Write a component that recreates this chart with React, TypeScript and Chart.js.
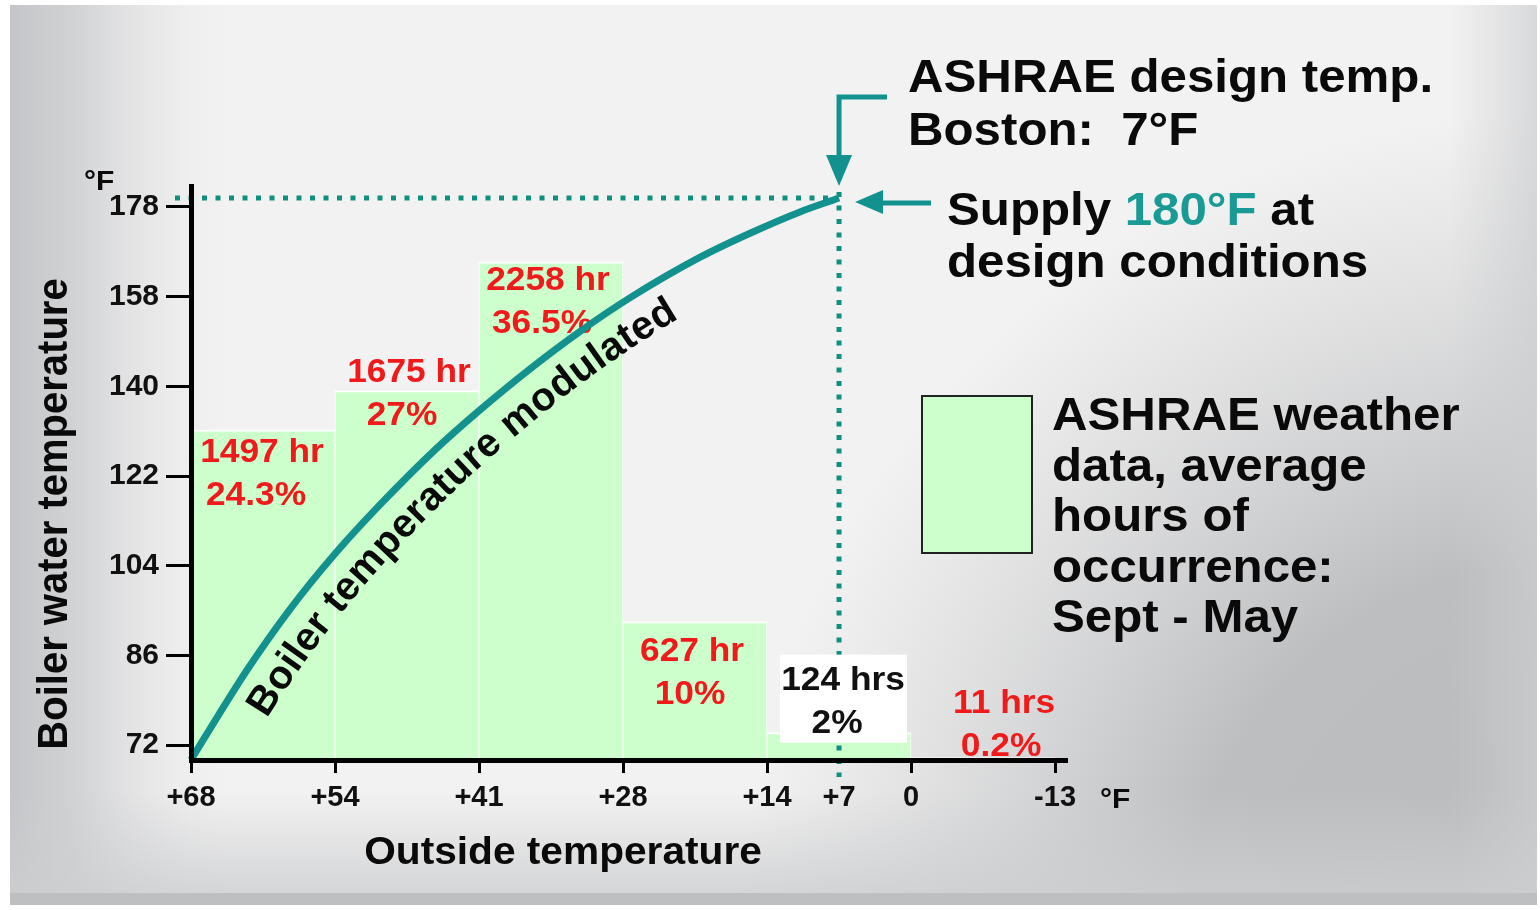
import React, { useEffect, useRef } from 'react';
import { Chart, LinearScale, registerables } from 'chart.js';

Chart.register(...registerables);

// ---------- data ----------
const OUTSIDE_EDGES = [68, 54, 41, 28, 14, 0, -13];
const OUTSIDE_TICKS = [68, 54, 41, 28, 14, 7, 0, -13];
const OUTSIDE_TICK_LABELS = ['+68', '+54', '+41', '+28', '+14', '+7', '0', '-13'];
const BOILER_TICKS = [72, 86, 104, 122, 140, 158, 178];
const BIN_HOURS = [1497, 1675, 2258, 627, 124, 11];
const BIN_HOUR_LABELS = ['1497 hr', '1675 hr', '2258 hr', '627 hr', '124 hrs', '11 hrs'];
const BIN_SHARE_LABELS = ['24.3%', '27%', '36.5%', '10%', '2%', '0.2%'];
const CURVE_OUTSIDE = [68, 62.6, 58.4, 54, 50, 45, 41, 36.4, 31.9, 27.3, 20.5, 15.6, 10.8, 7];
const CURVE_BOILER = [69.7, 83.6, 95.2, 106.4, 116.1, 127.2, 135.1, 143.5, 151, 157.8, 166.8, 172.2, 176.9, 180];
const DESIGN_OUTSIDE = 7;
const DESIGN_SUPPLY = 180;
const CURVE_LABEL_START = 64.2;

// ---------- axis ranges ----------
const X_INDEX_MAX = 6.083;
const Y_INDEX_MIN = -0.167;
const Y_INDEX_MAX = 6.234;
const HOURS_AXIS_MAX = 2602;

// ---------- styles ----------
const FONT = '"Liberation Sans", Arial, Helvetica, sans-serif';
const TEAL = '#13918f';
const DOT_TEAL = '#0f8f80';
const RED = '#f01a1a';
const SX = 1.07;
const LABEL_DX = [-1, 2, -3, -3, 4, 21];
const LABEL2_DX = [-7, -5, -9, -5, -2, 18];
const LABEL_DY = [32, -8, 28, 39, -43, -45];
const LABEL_COLORS = [RED, RED, RED, RED, '#111', RED];

type PW = { anchors: number[]; ticks: number[]; min: number; max: number };
const PIECEWISE: Record<string, PW> = {
  x: { anchors: OUTSIDE_EDGES, ticks: OUTSIDE_TICKS, min: 0, max: X_INDEX_MAX },
  y: { anchors: BOILER_TICKS, ticks: BOILER_TICKS, min: Y_INDEX_MIN, max: Y_INDEX_MAX },
};

class PiecewiseScale extends LinearScale {
  static id = 'piecewise';
  cfg(): PW {
    return PIECEWISE[(this as any).id];
  }
  determineDataLimits() {
    const c = this.cfg();
    (this as any).min = c.min;
    (this as any).max = c.max;
  }
  buildTicks() {
    return this.cfg().ticks.map((v) => ({ value: v }));
  }
  toIndex(v: number) {
    const a = this.cfg().anchors;
    const n = a.length;
    for (let i = 0; i < n - 1; i++) {
      const lo = Math.min(a[i], a[i + 1]);
      const hi = Math.max(a[i], a[i + 1]);
      if (v >= lo && v <= hi) return i + (v - a[i]) / (a[i + 1] - a[i]);
    }
    const inc = a[1] > a[0];
    const before = inc ? v < a[0] : v > a[0];
    if (before) return (v - a[0]) / (a[1] - a[0]);
    return n - 2 + (v - a[n - 2]) / (a[n - 1] - a[n - 2]);
  }
  fromIndex(idx: number) {
    const a = this.cfg().anchors;
    let i = Math.floor(idx);
    i = Math.max(0, Math.min(a.length - 2, i));
    return a[i] + (idx - i) * (a[i + 1] - a[i]);
  }
  getPixelForValue(v: any) {
    if (v === null || v === undefined || isNaN(v)) return NaN;
    return super.getPixelForValue(this.toIndex(v));
  }
  getValueForPixel(p: number) {
    return this.fromIndex(super.getValueForPixel(p) as number);
  }
}
Chart.register(PiecewiseScale as any);

function txt(ctx: CanvasRenderingContext2D, s: string, x: number, y: number, size: number, color: string, align = 'left', sx = SX) {
  ctx.save();
  ctx.font = `bold ${size}px ${FONT}`;
  ctx.fillStyle = color;
  ctx.textBaseline = 'alphabetic';
  ctx.textAlign = 'left';
  const w = ctx.measureText(s).width * sx;
  let left = x;
  if (align === 'center') left = x - w / 2;
  else if (align === 'right') left = x - w;
  ctx.translate(left, y);
  ctx.scale(sx, 1);
  ctx.fillText(s, 0, 0);
  ctx.restore();
  return w;
}

function drawBackground(ctx: CanvasRenderingContext2D, W: number, H: number) {
  ctx.save();
  ctx.fillStyle = '#ffffff';
  ctx.fillRect(0, 0, W, H);
  const x0 = 10, y0 = 5, x1 = 1537, y1 = 905;
  ctx.beginPath();
  ctx.rect(x0, y0, x1 - x0, y1 - y0);
  ctx.clip();
  ctx.fillStyle = '#f2f2f2';
  ctx.fillRect(x0, y0, x1 - x0, y1 - y0);
  let g = ctx.createLinearGradient(x0, 0, 230, 0);
  g.addColorStop(0, 'rgba(196,197,200,1)');
  g.addColorStop(0.3, 'rgba(204,205,207,0.85)');
  g.addColorStop(1, 'rgba(232,232,234,0)');
  ctx.fillStyle = g;
  ctx.fillRect(x0, y0, 230, y1 - y0);
  g = ctx.createRadialGradient(1560, 930, 0, 1560, 930, 820);
  g.addColorStop(0, 'rgba(186,187,189,1)');
  g.addColorStop(0.45, 'rgba(189,190,192,1)');
  g.addColorStop(1, 'rgba(200,201,203,0)');
  ctx.fillStyle = g;
  ctx.fillRect(x0, y0, x1 - x0, y1 - y0);
  g = ctx.createLinearGradient(1450, 0, x1, 0);
  g.addColorStop(0, 'rgba(205,206,208,0)');
  g.addColorStop(1, 'rgba(205,206,208,0.7)');
  ctx.fillStyle = g;
  ctx.fillRect(1450, y0, x1 - 1450, y1 - y0);
  g = ctx.createLinearGradient(0, 790, 0, 893);
  g.addColorStop(0, 'rgba(205,206,208,0)');
  g.addColorStop(1, 'rgba(205,206,208,0.8)');
  ctx.fillStyle = g;
  ctx.fillRect(x0, 790, x1 - x0, 103);
  ctx.fillStyle = '#bebfc1';
  ctx.fillRect(x0, 893, x1 - x0, y1 - 893);
  ctx.restore();
}

function drawCurveLabel(chart: any, ctx: CanvasRenderingContext2D) {
  const meta = chart.getDatasetMeta(1);
  const pts = meta.data as any[];
  if (!pts || pts.length < 2) return;
  const samples: { x: number; y: number }[] = [];
  for (let i = 0; i < pts.length - 1; i++) {
    const p0 = pts[i], p3 = pts[i + 1];
    const c1x = p0.cp2x ?? p0.x, c1y = p0.cp2y ?? p0.y;
    const c2x = p3.cp1x ?? p3.x, c2y = p3.cp1y ?? p3.y;
    for (let k = 0; k < 24; k++) {
      const t = k / 24, u = 1 - t;
      samples.push({
        x: u * u * u * p0.x + 3 * u * u * t * c1x + 3 * u * t * t * c2x + t * t * t * p3.x,
        y: u * u * u * p0.y + 3 * u * u * t * c1y + 3 * u * t * t * c2y + t * t * t * p3.y,
      });
    }
  }
  samples.push({ x: pts[pts.length - 1].x, y: pts[pts.length - 1].y });
  const OFF = 43;
  const n = samples.length;
  const off: { x: number; y: number }[] = [];
  for (let i = 0; i < n; i++) {
    const a = samples[Math.max(0, i - 3)], b = samples[Math.min(n - 1, i + 3)];
    let tx = b.x - a.x, ty = b.y - a.y;
    const L = Math.hypot(tx, ty) || 1;
    tx /= L; ty /= L;
    off.push({ x: samples[i].x - ty * OFF, y: samples[i].y + tx * OFF });
  }
  const cum = [0];
  for (let i = 1; i < n; i++) cum.push(cum[i - 1] + Math.hypot(off[i].x - off[i - 1].x, off[i].y - off[i - 1].y));
  const startPx = chart.scales.x.getPixelForValue(CURVE_LABEL_START);
  let si = 0;
  while (si < n - 1 && samples[si].x < startPx) si++;
  const s0 = cum[si];
  const text = 'Boiler temperature modulated';
  ctx.save();
  ctx.font = `bold 40px ${FONT}`;
  ctx.fillStyle = '#0a0a0a';
  ctx.textAlign = 'center';
  ctx.textBaseline = 'alphabetic';
  let cursor = 0;
  for (const ch of text) {
    const w = ctx.measureText(ch).width * 1.02;
    const s = s0 + cursor + w / 2;
    let j = 1;
    while (j < n - 1 && cum[j] < s) j++;
    const segL = cum[j] - cum[j - 1] || 1;
    const f = Math.min(1, Math.max(0, (s - cum[j - 1]) / segL));
    const px = off[j - 1].x + (off[j].x - off[j - 1].x) * f;
    const py = off[j - 1].y + (off[j].y - off[j - 1].y) * f;
    const ang = Math.atan2(off[Math.min(n - 1, j + 2)].y - off[Math.max(0, j - 3)].y, off[Math.min(n - 1, j + 2)].x - off[Math.max(0, j - 3)].x);
    ctx.save();
    ctx.translate(px, py);
    ctx.rotate(ang);
    ctx.fillText(ch, 0, 0);
    ctx.restore();
    cursor += w;
  }
  ctx.restore();
}

const annotations = {
  id: 'annotations',
  beforeDraw(chart: any) {
    drawBackground(chart.ctx, chart.width, chart.height);
  },
  afterDatasetDraw(chart: any, args: any) {
    if (args.meta.type !== 'bar') return;
    const ctx: CanvasRenderingContext2D = chart.ctx;
    const { x, y, xb, yh } = chart.scales;
    const px7 = x.getPixelForValue(DESIGN_OUTSIDE);
    const py180 = y.getPixelForValue(DESIGN_SUPPLY);
    ctx.save();
    ctx.strokeStyle = DOT_TEAL;
    ctx.lineWidth = 5;
    ctx.setLineDash([5, 8.5]);
    ctx.beginPath();
    ctx.moveTo(x.left - 16, py180);
    ctx.lineTo(px7 - 6, py180);
    ctx.stroke();
    ctx.beginPath();
    ctx.moveTo(px7, py180 - 6);
    ctx.lineTo(px7, x.top + 17);
    ctx.stroke();
    ctx.restore();
    BIN_HOURS.forEach((h, i) => {
      const cx = xb.getPixelForValue(i + 0.5);
      const top = yh.getPixelForValue(h);
      const b1 = top + LABEL_DY[i];
      if (i === 4) {
        ctx.save();
        ctx.fillStyle = '#ffffff';
        ctx.fillRect(cx - 59, b1 - 35, 127, 88);
        ctx.restore();
      }
      txt(ctx, BIN_HOUR_LABELS[i], cx + LABEL_DX[i], b1, 33, LABEL_COLORS[i], 'center');
      txt(ctx, BIN_SHARE_LABELS[i], cx + LABEL2_DX[i], b1 + 43, 33, LABEL_COLORS[i], 'center');
    });
  },
  afterDraw(chart: any) {
    const ctx: CanvasRenderingContext2D = chart.ctx;
    const { x, y } = chart.scales;
    const px7 = x.getPixelForValue(DESIGN_OUTSIDE);
    const py180 = y.getPixelForValue(DESIGN_SUPPLY);

    drawCurveLabel(chart, ctx);

    // arrows
    ctx.save();
    ctx.strokeStyle = TEAL;
    ctx.fillStyle = TEAL;
    ctx.lineWidth = 5;
    ctx.lineJoin = 'miter';
    ctx.beginPath();
    ctx.moveTo(px7 + 48, 97);
    ctx.lineTo(px7, 97);
    ctx.lineTo(px7, 160);
    ctx.stroke();
    ctx.beginPath();
    ctx.moveTo(px7 - 13, 155);
    ctx.lineTo(px7 + 13, 155);
    ctx.lineTo(px7, py180 - 12);
    ctx.closePath();
    ctx.fill();
    ctx.beginPath();
    ctx.moveTo(px7 + 92, py180 + 5);
    ctx.lineTo(px7 + 38, py180 + 5);
    ctx.stroke();
    ctx.beginPath();
    ctx.moveTo(px7 + 16, py180 + 4);
    ctx.lineTo(px7 + 44, py180 - 8);
    ctx.lineTo(px7 + 44, py180 + 16);
    ctx.closePath();
    ctx.fill();
    ctx.restore();

    // annotation texts
    txt(ctx, 'ASHRAE design temp.', 908, 92, 46, '#0a0a0a');
    txt(ctx, 'Boston:  7°F', 908, 145, 46, '#0a0a0a');
    let cx = 947;
    cx += txt(ctx, 'Supply ', cx, 225, 46, '#0a0a0a');
    cx += txt(ctx, '180°F', cx, 225, 46, '#1a9a95');
    txt(ctx, ' at', cx, 225, 46, '#0a0a0a');
    txt(ctx, 'design conditions', 947, 277, 46, '#0a0a0a');

    // legend
    ctx.save();
    ctx.fillStyle = '#ccffcc';
    ctx.fillRect(922, 396, 110, 157);
    ctx.strokeStyle = '#222';
    ctx.lineWidth = 2;
    ctx.strokeRect(922, 396, 110, 157);
    ctx.restore();
    const legendLines = ['ASHRAE weather', 'data, average', 'hours of', 'occurrence:', 'Sept - May'];
    legendLines.forEach((l, i) => txt(ctx, l, 1052, 430 + i * 50.5, 46, '#0a0a0a'));

    // axis titles and units
    txt(ctx, 'Outside temperature', 563, 864, 38, '#0a0a0a', 'center');
    ctx.save();
    ctx.translate(67, 514);
    ctx.rotate(-Math.PI / 2);
    ctx.scale(1, SX);
    ctx.font = `bold 40px ${FONT}`;
    ctx.fillStyle = '#0a0a0a';
    ctx.textAlign = 'center';
    ctx.textBaseline = 'alphabetic';
    ctx.fillText('Boiler water temperature', 0, 0);
    ctx.restore();
    txt(ctx, '°F', 84, 190, 28, '#0a0a0a');
    txt(ctx, '°F', 1100, 808, 28, '#0a0a0a');
  },
};

export default function App() {
  const ref = useRef<HTMLCanvasElement>(null);
  useEffect(() => {
    const canvas = ref.current;
    if (!canvas) return;
    Chart.defaults.font.family = FONT;
    const chart = new Chart(canvas, {
      type: 'line',
      data: {
        datasets: [
          {
            type: 'bar',
            label: 'Hours of occurrence',
            data: BIN_HOURS.map((h, i) => ({ x: i + 0.5, y: h })),
            xAxisID: 'xb',
            yAxisID: 'yh',
            backgroundColor: '#ccffcc',
            borderColor: 'rgba(255,255,255,0.9)',
            borderWidth: { top: 2, left: 1, right: 1, bottom: 0 },
            grouped: false,
            barPercentage: 1,
            categoryPercentage: 1,
            order: 2,
          } as any,
          {
            type: 'line',
            label: 'Boiler temperature',
            data: CURVE_OUTSIDE.map((o, i) => ({ x: o, y: CURVE_BOILER[i] })),
            xAxisID: 'x',
            yAxisID: 'y',
            borderColor: TEAL,
            borderWidth: 7,
            pointRadius: 0,
            cubicInterpolationMode: 'monotone',
            clip: false,
            order: 1,
          } as any,
        ],
      },
      options: {
        responsive: false,
        devicePixelRatio: 1,
        animation: false,
        events: [],
        layout: { padding: { left: 0, top: 186, right: 473, bottom: 0 } },
        plugins: { legend: { display: false }, tooltip: { enabled: false } },
        scales: {
          x: {
            type: 'piecewise' as any,
            position: 'bottom',
            offset: false,
            afterFit: (s: any) => { s.height = 150; },
            grid: {
              drawOnChartArea: false,
              drawTicks: true,
              tickLength: 13,
              tickWidth: 3,
              offset: false,
              z: 1,
              tickColor: (c: any) => (c.tick && c.tick.value === DESIGN_OUTSIDE ? 'rgba(0,0,0,0)' : '#000'),
            },
            border: { display: true, color: '#000', width: 5, z: 1 },
            ticks: {
              autoSkip: false,
              maxRotation: 0,
              padding: 8,
              color: '#111',
              font: { size: 29, weight: 'bold' },
              callback: (v: any) => OUTSIDE_TICK_LABELS[OUTSIDE_TICKS.indexOf(Number(v))] ?? '',
            },
          } as any,
          y: {
            type: 'piecewise' as any,
            position: 'left',
            offset: false,
            afterFit: (s: any) => { s.width = 191; },
            grid: { drawOnChartArea: false, drawTicks: true, tickLength: 25, tickWidth: 3, tickColor: '#000', z: 1 },
            border: { display: true, color: '#000', width: 5, z: 1 },
            ticks: {
              autoSkip: false,
              padding: 7,
              color: '#111',
              font: { size: 30, weight: 'bold' },
              callback: (v: any) => String(v),
            },
          } as any,
          xb: {
            type: 'linear', display: false, min: 0, max: X_INDEX_MAX, offset: false,
            ticks: { stepSize: 1, includeBounds: false },
          } as any,
          yh: { type: 'linear', display: false, min: 0, max: HOURS_AXIS_MAX } as any,
        },
      },
      plugins: [annotations as any],
    });
    return () => chart.destroy();
  }, []);
  return (
    <div style={{ position: 'absolute', left: 0, top: 0, width: 1540, height: 910 }}>
      <canvas ref={ref} width={1540} height={910} style={{ display: 'block', width: 1540, height: 910 }} />
    </div>
  );
}
